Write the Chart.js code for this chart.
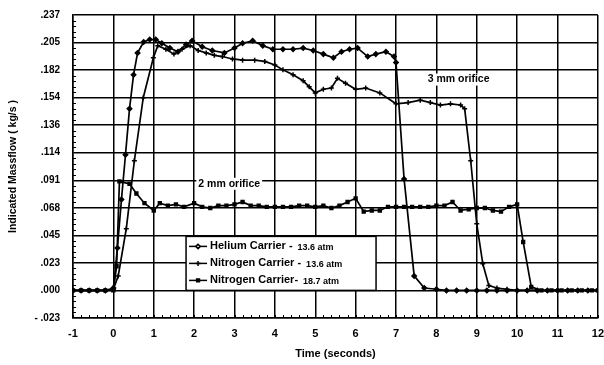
<!DOCTYPE html>
<html>
<head>
<meta charset="utf-8">
<script src="https://cdn.jsdelivr.net/npm/chart.js@4.4.1/dist/chart.umd.min.js"></script>
<style>
  html, body { margin: 0; padding: 0; background: #fff; }
  #wrap { width: 604px; height: 365px; }
</style>
</head>
<body>
<div id="wrap"><canvas id="chart"></canvas></div>
<script>
// y gridlines are evenly spaced; the printed labels are what the scan shows
const yTickLabels = ["- .023", ".000", ".023", ".045", ".068", ".091", ".114", ".136", ".154", ".182", ".205", ".237"];
const yStep = 0.25 / 11;

const seriesNames = ["Helium Carrier -", "Nitrogen Carrier -", "Nitrogen Carrier-"];
const seriesPressures = ["13.6 atm", "13.6 atm", "18.7 atm"];

// Helium carrier, 13.6 atm (3 mm orifice, cuts off at ~7 s)
const heliumTime = [-1, -0.8, -0.6, -0.4, -0.2, 0, 0.1, 0.2, 0.3, 0.4, 0.5, 0.6, 0.75, 0.9, 1.05, 1.2, 1.4, 1.6, 1.8, 1.95, 2.2, 2.45, 2.75, 3.0, 3.2, 3.45, 3.7, 3.95, 4.2, 4.45, 4.7, 4.95, 5.2, 5.45, 5.65, 5.85, 6.05, 6.3, 6.5, 6.75, 6.95, 7.0, 7.2, 7.45, 7.7, 8.0, 8.25, 8.5, 8.75, 9.0, 9.25, 9.5, 9.75, 10.0, 10.25, 10.5, 10.75, 11.0, 11.25, 11.5, 11.75, 12];
const heliumFlow = [0, 0, 0, 0, 0, 0.002, 0.035, 0.075, 0.112, 0.150, 0.178, 0.196, 0.205, 0.207, 0.207, 0.204, 0.200, 0.197, 0.203, 0.206, 0.201, 0.198, 0.196, 0.200, 0.204, 0.206, 0.202, 0.199, 0.199, 0.199, 0.200, 0.198, 0.195, 0.192, 0.197, 0.199, 0.200, 0.193, 0.195, 0.197, 0.193, 0.188, 0.092, 0.012, 0.002, 0.001, 0, 0, 0, 0, 0, 0, 0, 0, 0, 0, 0, 0, 0, 0, 0, 0];

// Nitrogen carrier, 13.6 atm (3 mm orifice, cuts off at ~8.7 s)
const nitrogenLowTime = [-1, -0.8, -0.6, -0.4, -0.2, 0, 0.12, 0.32, 0.52, 0.74, 0.99, 1.1, 1.3, 1.5, 1.7, 1.9, 2.1, 2.3, 2.5, 2.7, 2.95, 3.2, 3.5, 3.75, 4.0, 4.2, 4.45, 4.7, 4.85, 5.0, 5.2, 5.4, 5.55, 5.75, 6.0, 6.25, 6.6, 7.0, 7.3, 7.6, 7.85, 8.1, 8.35, 8.6, 8.7, 8.85, 9.0, 9.15, 9.3, 9.5, 9.75, 10.0, 10.25, 10.5, 10.75, 11.0, 11.25, 11.5, 11.75, 12];
const nitrogenLowFlow = [0, 0, 0, 0, 0, 0.001, 0.012, 0.051, 0.107, 0.159, 0.192, 0.202, 0.199, 0.195, 0.199, 0.202, 0.198, 0.196, 0.194, 0.193, 0.191, 0.190, 0.190, 0.189, 0.186, 0.182, 0.178, 0.173, 0.168, 0.163, 0.166, 0.167, 0.175, 0.171, 0.166, 0.167, 0.163, 0.154, 0.155, 0.157, 0.155, 0.153, 0.154, 0.153, 0.150, 0.107, 0.055, 0.022, 0.004, 0.002, 0.001, 0, 0, 0, 0, 0, 0, 0, 0, 0];

// Nitrogen carrier, 18.7 atm (2 mm orifice, cuts off at ~10 s)
const nitrogenHighTime = [-1, -0.8, -0.6, -0.4, -0.2, 0, 0.08, 0.15, 0.4, 0.57, 0.77, 1.0, 1.15, 1.35, 1.55, 1.75, 2.0, 2.2, 2.4, 2.6, 2.8, 3.0, 3.2, 3.4, 3.6, 3.8, 4.0, 4.2, 4.4, 4.6, 4.8, 5.0, 5.2, 5.4, 5.6, 5.8, 6.0, 6.2, 6.4, 6.6, 6.8, 7.0, 7.2, 7.4, 7.6, 7.8, 8.0, 8.2, 8.4, 8.6, 8.8, 9.0, 9.2, 9.4, 9.6, 9.8, 10.0, 10.15, 10.35, 10.6, 10.85, 11.1, 11.35, 11.6, 11.85, 12];
const nitrogenHighFlow = [0, 0, 0, 0, 0, 0, 0.020, 0.090, 0.088, 0.080, 0.072, 0.066, 0.072, 0.070, 0.071, 0.069, 0.072, 0.069, 0.068, 0.070, 0.070, 0.071, 0.073, 0.070, 0.070, 0.069, 0.069, 0.069, 0.069, 0.070, 0.070, 0.069, 0.070, 0.068, 0.070, 0.073, 0.076, 0.065, 0.066, 0.066, 0.069, 0.069, 0.069, 0.069, 0.069, 0.069, 0.070, 0.070, 0.073, 0.066, 0.067, 0.068, 0.068, 0.066, 0.065, 0.069, 0.071, 0.040, 0.003, 0, 0, 0, 0, 0, 0, 0];

const FONT = "'Liberation Sans', Arial, sans-serif";

function toPoints(times, flows) {
  return times.map((t, i) => ({ x: t, y: flows[i] }));
}

const series = [
  { time: heliumTime, flow: heliumFlow, style: "rectRot", radius: 2.2 },
  { time: nitrogenLowTime, flow: nitrogenLowFlow, style: "cross", radius: 2.5 },
  { time: nitrogenHighTime, flow: nitrogenHighFlow, style: "rect", radius: 2 },
];

// small inward minor ticks on the left and bottom axes
const minorTicks = {
  id: "minorTicks",
  afterDraw(chart) {
    const { ctx, chartArea: a, scales } = chart;
    ctx.save();
    ctx.strokeStyle = "#000";
    ctx.lineWidth = 1;
    ctx.beginPath();
    for (let t = -1; t < 12; t += 0.2) {
      const px = Math.round(scales.x.getPixelForValue(t)) + 0.5;
      ctx.moveTo(px, a.bottom);
      ctx.lineTo(px, a.bottom - 3);
    }
    for (let i = -1; i < 10; i++) {
      for (let k = 1; k < 5; k++) {
        const py = Math.round(scales.y.getPixelForValue((i + k / 5) * yStep)) + 0.5;
        ctx.moveTo(a.left, py);
        ctx.lineTo(a.left + 3, py);
      }
    }
    ctx.stroke();
    ctx.restore();
  },
};

// orifice labels and the boxed legend inside the plot
const overlay = {
  id: "overlay",
  afterDatasetsDraw(chart) {
    const { ctx, scales } = chart;
    ctx.save();
    ctx.font = `bold 10.5px ${FONT}`;
    ctx.textBaseline = "middle";
    ctx.textAlign = "center";
    [["3 mm orifice", 8.55, 0.174], ["2 mm orifice", 2.87, 0.088]].forEach(([txt, t, v]) => {
      const x = scales.x.getPixelForValue(t);
      const y = scales.y.getPixelForValue(v);
      const w = ctx.measureText(txt).width;
      ctx.fillStyle = "#fff";
      ctx.fillRect(x - w / 2 - 2, y - 6, w + 4, 12);
      ctx.fillStyle = "#000";
      ctx.fillText(txt, x, y);
    });

    const bx = scales.x.getPixelForValue(1.8);
    const by = scales.y.getPixelForValue(0.0446);
    const bw = 190;
    const bh = 54;
    ctx.fillStyle = "#fff";
    ctx.fillRect(bx, by, bw, bh);
    ctx.strokeStyle = "#000";
    ctx.lineWidth = 1.5;
    ctx.strokeRect(bx, by, bw, bh);

    ctx.textAlign = "left";
    series.forEach((s, i) => {
      const ry = by + 10 + i * 17;
      ctx.strokeStyle = "#000";
      ctx.lineWidth = 1.5;
      ctx.beginPath();
      ctx.moveTo(bx + 3, ry);
      ctx.lineTo(bx + 21, ry);
      ctx.stroke();
      Chart.helpers.drawPoint(ctx, { pointStyle: s.style, radius: s.radius, rotation: 0, borderWidth: 1.5 }, bx + 12, ry);
      ctx.fillStyle = "#000";
      ctx.font = `bold 11px ${FONT}`;
      ctx.fillText(seriesNames[i], bx + 24, ry);
      const w = ctx.measureText(seriesNames[i]).width;
      ctx.font = `bold 9px ${FONT}`;
      ctx.fillText(seriesPressures[i], bx + 24 + w + 5, ry + 1);
    });
    ctx.restore();
  },
};

new Chart(document.getElementById("chart"), {
  type: "line",
  data: {
    datasets: series.map((s, i) => ({
      label: `${seriesNames[i]} ${seriesPressures[i]}`,
      data: toPoints(s.time, s.flow),
      borderColor: "#000",
      backgroundColor: "#000",
      borderWidth: 1.7,
      pointStyle: s.style,
      pointRadius: s.radius,
      pointBorderWidth: 1.5,
      tension: 0,
    })),
  },
  options: {
    responsive: true,
    maintainAspectRatio: false,
    animation: false,
    layout: { padding: { top: 15, right: 0, left: 0, bottom: 0 } },
    plugins: { legend: { display: false }, tooltip: { enabled: false } },
    scales: {
      x: {
        type: "linear",
        min: -1,
        max: 12,
        afterFit: (scale) => { scale.height = 47; },
        ticks: { stepSize: 1, padding: 0, color: "#000", font: { family: FONT, size: 11, weight: "bold" } },
        grid: { color: "#000", lineWidth: 1.5, drawTicks: true, tickLength: 9, tickColor: "rgba(0,0,0,0)" },
        border: { display: true, color: "#000", width: 1.5 },
        title: {
          display: true,
          text: "Time (seconds)",
          color: "#000",
          font: { family: FONT, size: 11, weight: "bold" },
          padding: { top: 0, bottom: 4 },
        },
      },
      y: {
        type: "linear",
        min: -yStep,
        max: 10 * yStep,
        afterFit: (scale) => { scale.width = 73; },
        afterBuildTicks: (scale) => {
          scale.ticks = yTickLabels.map((_, i) => ({ value: (i - 1) * yStep }));
        },
        ticks: {
          padding: 0,
          color: "#000",
          font: { family: FONT, size: 10, weight: "bold" },
          callback: (v, i) => yTickLabels[i],
        },
        grid: { color: "#000", lineWidth: 1.5, drawTicks: true, tickLength: 13, tickColor: "rgba(0,0,0,0)" },
        border: { display: true, color: "#000", width: 1.5 },
        title: {
          display: true,
          text: "Indicated Massflow ( kg/s )",
          color: "#000",
          font: { family: FONT, size: 10.5, weight: "bold" },
          padding: { top: 7, bottom: 0 },
        },
      },
    },
  },
  plugins: [minorTicks, overlay],
});
</script>
</body>
</html>
